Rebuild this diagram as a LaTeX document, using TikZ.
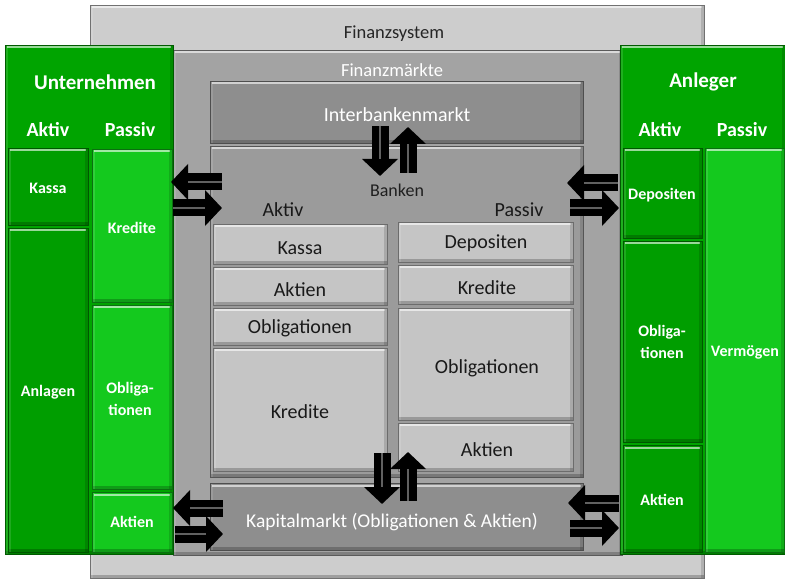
\documentclass[tikz,border=0pt]{standalone}
\usepackage{fontspec}
\setmainfont{Carlito}
\usetikzlibrary{arrows.meta,fit}

\definecolor{sysgray}{HTML}{CDCDCD}
\definecolor{mktgray}{HTML}{A3A3A3}
\definecolor{bandgray}{HTML}{8E8E8E}
\definecolor{bankgray}{HTML}{9B9B9B}
\definecolor{itemgray}{HTML}{C5C5C5}
\definecolor{hdrgreen}{HTML}{00A400}
\definecolor{dkgreen}{HTML}{009E00}
\definecolor{brgreen}{HTML}{14C91E}

\tikzset{
  % bevelled box: light top rim, darker bottom and right rims
  bev/.style={fill=#1, draw=#1!55!black, line width=0.7pt, inner sep=0pt,
    path picture={
      \fill[white,opacity=.6] ([xshift=2pt,yshift=-1.5pt]path picture bounding box.north west)
        rectangle ([xshift=-2pt,yshift=-3.5pt]path picture bounding box.north east);
      \fill[black,opacity=.22] ([yshift=3pt]path picture bounding box.south west)
        rectangle (path picture bounding box.south east);
      \fill[black,opacity=.14] ([xshift=-3pt]path picture bounding box.north east)
        rectangle (path picture bounding box.south east);
      \fill[white,opacity=.12] (path picture bounding box.north west)
        rectangle ([xshift=2.5pt]path picture bounding box.south west);
    }},
  item/.style={bev=itemgray},
  lbl/.style={inner sep=0pt},
  itemtxt/.style={lbl, text=black!90, font=\fontsize{20}{22}\selectfont},
  bandtxt/.style={lbl, text=white, font=\fontsize{20}{22}\selectfont},
  gbig/.style={lbl, text=white, font=\bfseries\fontsize{21}{23}\selectfont},
  gmid/.style={lbl, text=white, font=\bfseries\fontsize{20}{22}\selectfont},
  gsmall/.style={lbl, text=white, font=\bfseries\fontsize{16}{22}\selectfont, align=center},
  flow/.style={draw=black, line width=17pt, -{Triangle[length=17pt,width=35pt]}},
  flowshine/.style={draw=black!62, line width=1.2pt, shorten >=17pt},
}

\begin{document}
\begin{tikzpicture}[x=1pt,y=-1pt]
\useasboundingbox (0,0) rectangle (785,585);

% ---------- financial system frame ----------
\node[bev=sysgray, fit={(90,5) (704,578)}] (system) {};
\node[lbl, text=black!85, font=\fontsize{18.5}{20}\selectfont] (systemlbl) at (394,34) {Finanzsystem};

\node[bev=mktgray, fit={(173,50) (622,555)}] (markets) {};
\node[lbl, text=white, font=\fontsize{18.5}{20}\selectfont] (marketslbl) at (392,70) {Finanzmärkte};

% interbank market
\node[bev=bandgray, fit={(210,81) (583,143)}] (interbank) {};
\node[bandtxt] (interbanklbl) at (397,115) {Interbankenmarkt};

% banks
\node[bev=bankgray, fit={(210,146) (583,477)}] (banks) {};
\node[lbl, text=black!88, font=\fontsize{18}{20}\selectfont] (bankslbl) at (397,190) {Banken};
\node[itemtxt] (bAktiv) at (283,210) {Aktiv};
\node[itemtxt] (bPassiv) at (519,210) {Passiv};

% bank assets
\node[item, fit={(213,224) (387,264)}] (bKassa) {};
\node[item, fit={(213,267) (387,305)}] (bAktien) {};
\node[item, fit={(213,308) (387,345)}] (bOblig) {};
\node[item, fit={(213,348) (387,471)}] (bKredite) {};
\node[itemtxt] at (300,248) {Kassa};
\node[itemtxt] at (300,290) {Aktien};
\node[itemtxt] at (300,328) {Obligationen};
\node[itemtxt] at (300,412) {Kredite};

% bank liabilities
\node[item, fit={(398,222) (573,262)}] (bDepo) {};
\node[item, fit={(398,265) (573,304)}] (bKred2) {};
\node[item, fit={(398,308) (573,420)}] (bOblig2) {};
\node[item, fit={(398,423) (573,471)}] (bAktien2) {};
\node[itemtxt] at (486,243) {Depositen};
\node[itemtxt] at (487,288) {Kredite};
\node[itemtxt] at (487,368) {Obligationen};
\node[itemtxt] at (487,450) {Aktien};

% capital market
\node[bev=bandgray, fit={(210,483) (583,550)}] (capital) {};
\node[bandtxt, font=\fontsize{19.5}{22}\selectfont] (capitallbl) at (392,522) {Kapitalmarkt (Obligationen \& Aktien)};

% ---------- companies ----------
\node[bev=hdrgreen, fit={(5,45) (173,554)}] (firms) {};
\node[gbig] (firmslbl) at (95,82) {Unternehmen};
\node[gmid] (fAktiv) at (48,130) {Aktiv};
\node[gmid] (fPassiv) at (130,130) {Passiv};
\node[bev=dkgreen, fit={(8,148) (88,225)}] (fKassa) {};
\node[bev=dkgreen, fit={(8,228) (88,552)}] (fAnlagen) {};
\node[bev=brgreen, fit={(92,149) (172,302)}] (fKredite) {};
\node[bev=brgreen, fit={(92,305) (172,489)}] (fOblig) {};
\node[bev=brgreen, fit={(92,492) (172,552)}] (fAktien) {};
\node[gsmall] at (48,188) {Kassa};
\node[gsmall] at (48,392) {Anlagen};
\node[gsmall] at (132,228) {Kredite};
\node[gsmall] at (130,399) {Obliga-\\tionen};
\node[gsmall] at (132,522) {Aktien};

% ---------- investors ----------
\node[bev=hdrgreen, fit={(620,45) (785,554)}] (investors) {};
\node[gbig] (investorslbl) at (703,82) {Anleger};
\node[gmid] (iAktiv) at (660,130) {Aktiv};
\node[gmid] (iPassiv) at (742,130) {Passiv};
\node[bev=dkgreen, fit={(623,148) (702,238)}] (iDepo) {};
\node[bev=dkgreen, fit={(623,241) (702,442)}] (iOblig) {};
\node[bev=dkgreen, fit={(623,445) (702,552)}] (iAktien) {};
\node[bev=brgreen, fit={(705,148) (784,552)}] (iVerm) {};
\node[gsmall] at (662,195) {Depositen};
\node[gsmall] at (662,342) {Obliga-\\tionen};
\node[gsmall] at (662,500) {Aktien};
\node[gsmall] at (745,352) {Vermögen};

% ---------- flow arrows ----------
\coordinate (fl1a) at (222,182); \coordinate (fl1b) at (171,182);
\coordinate (fl2a) at (173,208); \coordinate (fl2b) at (222,208);
\coordinate (ir1a) at (618,183); \coordinate (ir1b) at (567,183);
\coordinate (ir2a) at (570,208); \coordinate (ir2b) at (619,208);
\coordinate (fl3a) at (223,508); \coordinate (fl3b) at (173,508);
\coordinate (fl4a) at (175,534); \coordinate (fl4b) at (223,534);
\coordinate (ir3a) at (619,503); \coordinate (ir3b) at (568,503);
\coordinate (ir4a) at (570,528); \coordinate (ir4b) at (619,528);
\coordinate (ib1a) at (380,126); \coordinate (ib1b) at (380,176);
\coordinate (ib2a) at (408,173); \coordinate (ib2b) at (408,127);
\coordinate (cb1a) at (382,453); \coordinate (cb1b) at (382,504);
\coordinate (cb2a) at (408,501); \coordinate (cb2b) at (408,452);

\foreach \s/\e in {fl1a/fl1b, fl2a/fl2b, ir1a/ir1b, ir2a/ir2b,
                   fl3a/fl3b, fl4a/fl4b, ir3a/ir3b, ir4a/ir4b,
                   ib1a/ib1b, ib2a/ib2b, cb1a/cb1b, cb2a/cb2b}{
  \draw[flow] (\s) -- (\e);
  \draw[flowshine] (\s) -- (\e);
}
\end{tikzpicture}
\end{document}
